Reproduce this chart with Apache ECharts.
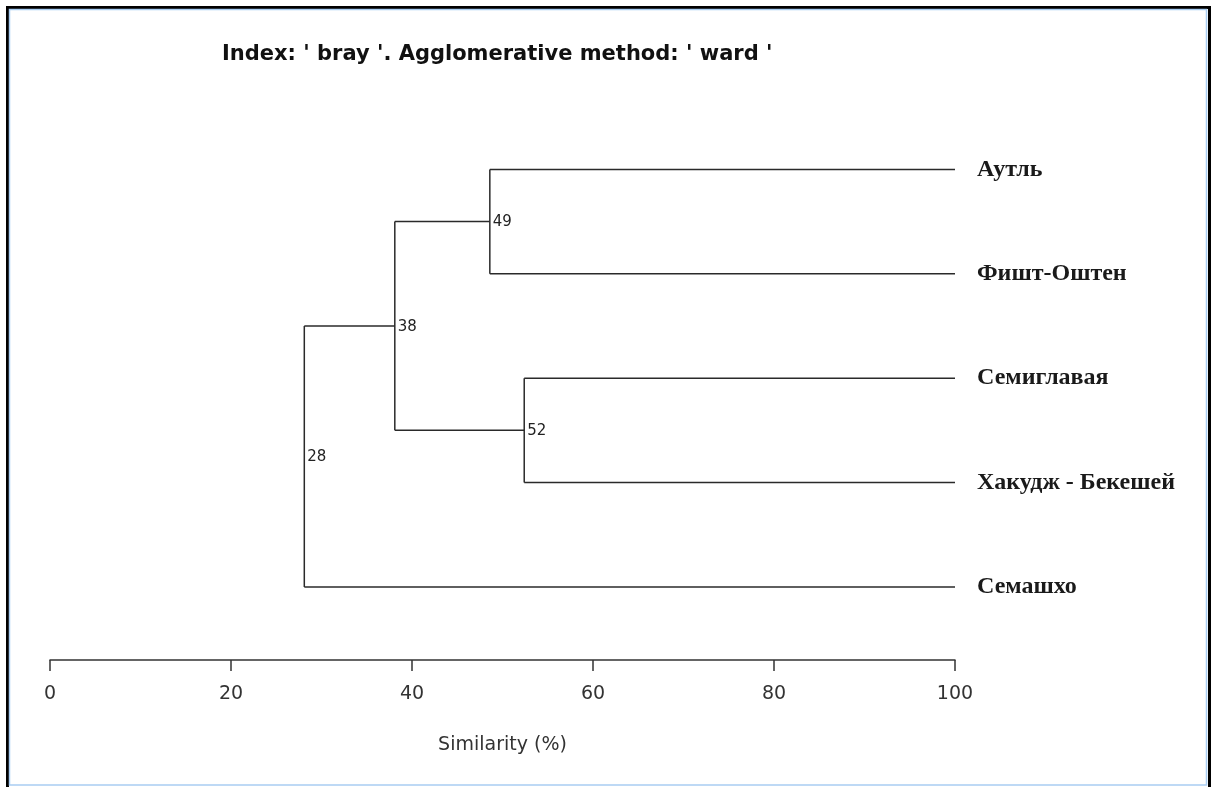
<!DOCTYPE html>
<html>
<head>
<meta charset="utf-8">
<script src="https://cdn.jsdelivr.net/npm/echarts@6/dist/echarts.min.js"></script>
<style>html,body{margin:0;padding:0;background:#fff;}#c{width:1212px;height:787px;}</style>
</head>
<body>
<div id="c"></div>
<script>
// ---- data ----
const leaves = ['Аутль', 'Фишт-Оштен', 'Семиглавая', 'Хакудж - Бекешей', 'Семашхо'];
// merges in R hclust style: negative = leaf index (1-based), positive = earlier merge (1-based)
const mergeLeft = [-1, -3, 1, 3];
const mergeRight = [-2, -4, 2, -5];
const mergeHeight = [48.6, 52.4, 38.1, 28.1];
const mergeLabel = ['49', '52', '38', '28'];
const xTicks = [0, 20, 40, 60, 80, 100];
const leafHeight = 100;

// ---- build geometry in data space ----
const nodePos = [];
function pos(ref) {
  if (ref < 0) return [leafHeight, -ref];
  return nodePos[ref - 1];
}
const segments = [];
const nodeLabels = [];
for (let k = 0; k < mergeHeight.length; k++) {
  const a = pos(mergeLeft[k]);
  const b = pos(mergeRight[k]);
  const h = mergeHeight[k];
  segments.push([h, a[1], h, b[1]]);
  segments.push([h, a[1], a[0], a[1]]);
  segments.push([h, b[1], b[0], b[1]]);
  const ym = (a[1] + b[1]) / 2;
  nodePos.push([h, ym]);
  nodeLabels.push([h, ym, mergeLabel[k]]);
}
const leafLabels = leaves.map((n, i) => [leafHeight, i + 1, n]);

const chart = echarts.init(document.getElementById('c'));
chart.setOption({
  animation: false,
  backgroundColor: '#fff',
  title: {
    text: "Index: ' bray '. Agglomerative method: ' ward '",
    left: 217, top: 39,
    textStyle: { fontFamily: 'DejaVu Sans', fontWeight: 'bold', fontSize: 21, color: '#111' }
  },
  grid: { left: 50, right: 257, top: 65, bottom: 127 },
  xAxis: {
    type: 'value', min: 0, max: 100, interval: 20, position: 'bottom',
    axisLine: { show: true, onZero: false, lineStyle: { color: '#333', width: 1.5 } },
    axisTick: { show: true, length: 11, lineStyle: { color: '#333', width: 1.5 } },
    axisLabel: { margin: 25, fontFamily: 'DejaVu Sans', fontSize: 19, color: '#333',
      formatter: v => xTicks.indexOf(v) >= 0 ? String(v) : '' },
    splitLine: { show: false },
    name: 'Similarity (%)', nameLocation: 'middle', nameGap: 76,
    nameTextStyle: { fontFamily: 'DejaVu Sans', fontSize: 19, color: '#333' }
  },
  yAxis: { type: 'value', min: 0, max: 5.7, inverse: true, show: false },
  series: [
    {
      type: 'custom',
      data: segments,
      renderItem: function (params, api) {
        const p1 = api.coord([api.value(0), api.value(1)]);
        const p2 = api.coord([api.value(2), api.value(3)]);
        return { type: 'line', shape: { x1: p1[0], y1: p1[1], x2: p2[0], y2: p2[1] },
          style: { stroke: '#2a2a2a', lineWidth: 1.5 } };
      }
    },
    {
      type: 'custom',
      data: nodeLabels,
      renderItem: function (params, api) {
        const p = api.coord([api.value(0), api.value(1)]);
        return { type: 'text', x: p[0] + 3, y: p[1] + 1,
          style: { text: nodeLabels[params.dataIndex][2], fill: '#222', font: '15px "DejaVu Sans"',
            align: 'left', verticalAlign: 'middle' } };
      }
    },
    {
      type: 'custom',
      data: leafLabels,
      renderItem: function (params, api) {
        const p = api.coord([api.value(0), api.value(1)]);
        return { type: 'text', x: p[0] + 22, y: p[1],
          style: { text: leafLabels[params.dataIndex][2], fill: '#1a1a1a', font: 'bold 24px "Liberation Serif"',
            align: 'left', verticalAlign: 'middle' } };
      }
    }
  ],
  graphic: [
    { type: 'rect', z: 100, shape: { x: 7.5, y: 7.5, width: 1202, height: 800 }, style: { fill: null, stroke: '#000', lineWidth: 3 } },
    { type: 'rect', z: 100, shape: { x: 9.5, y: 9.5, width: 1197, height: 775.5 }, style: { fill: null, stroke: '#a9cdf2', lineWidth: 1.5 } }
  ]
});
</script>
</body>
</html>
